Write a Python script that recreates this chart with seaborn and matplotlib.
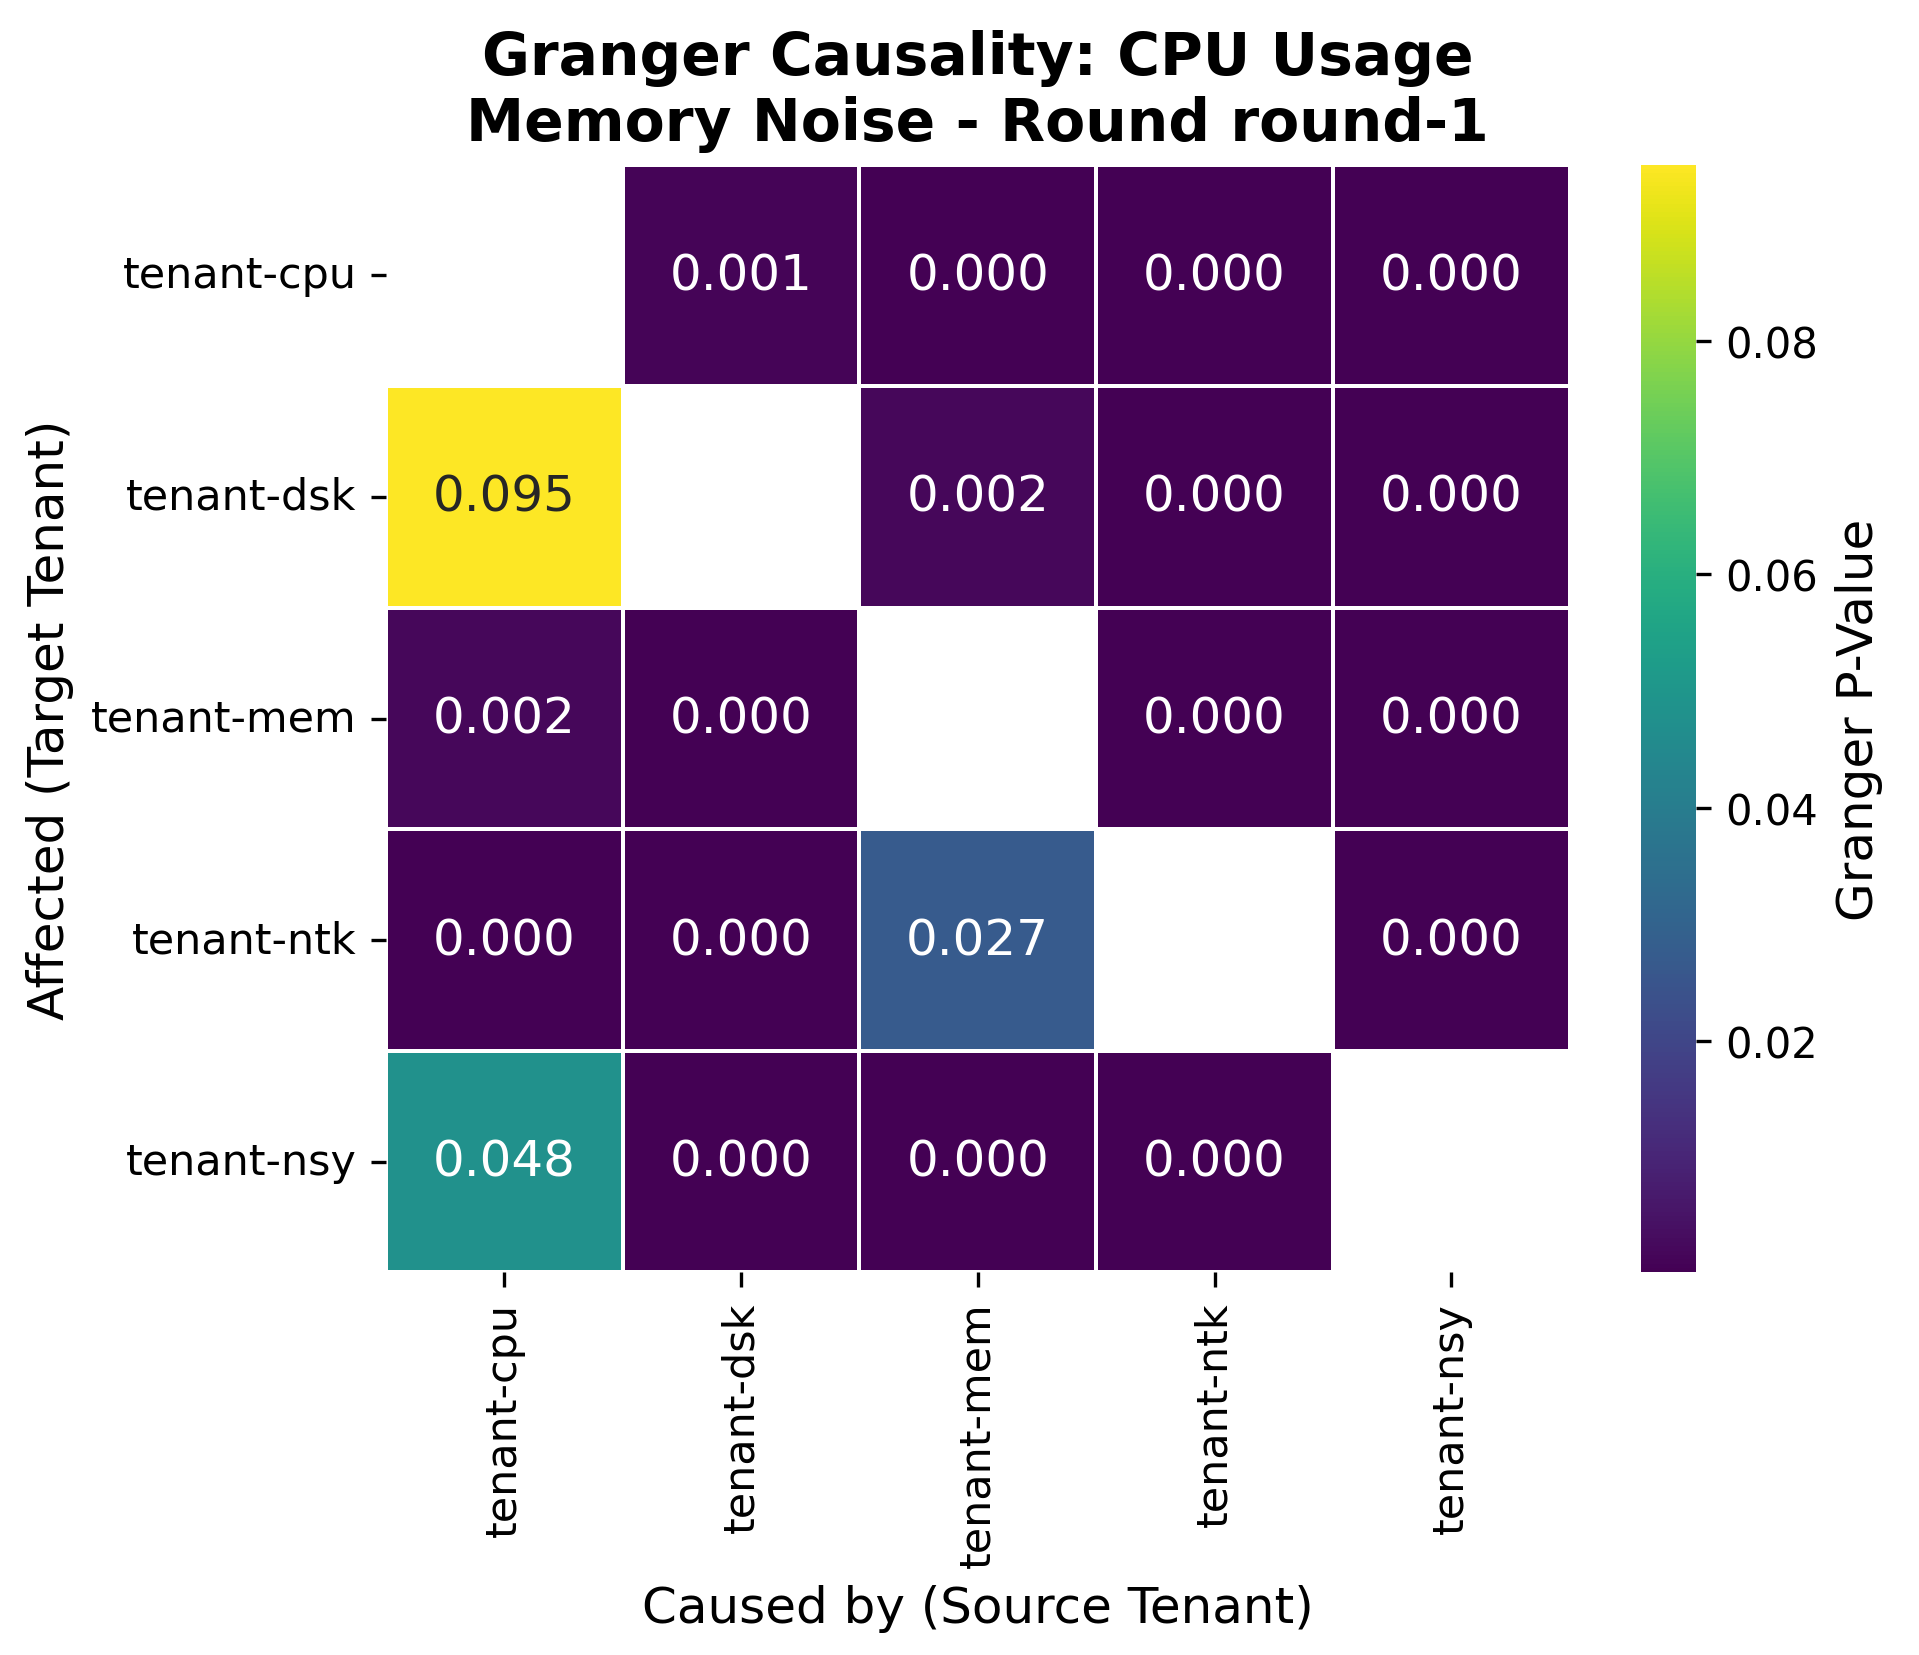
import numpy as np
import pandas as pd
import matplotlib
matplotlib.use("Agg")
import matplotlib.pyplot as plt
import seaborn as sns

# tenants (rows = target / affected, columns = source / cause)
tenants = ["tenant-cpu", "tenant-dsk", "tenant-mem", "tenant-ntk", "tenant-nsy"]

# p-values, one list per target row (diagonal = nan)
row_cpu = [np.nan, 0.0010, 0.0003, 0.0002, 0.0002]
row_dsk = [0.0951, np.nan, 0.0020, 0.0002, 0.0002]
row_mem = [0.0018, 0.0003, np.nan, 0.0002, 0.0002]
row_ntk = [0.0002, 0.0002, 0.0270, np.nan, 0.0002]
row_nsy = [0.0480, 0.0002, 0.0002, 0.0002, np.nan]

matriz = pd.DataFrame([row_cpu, row_dsk, row_mem, row_ntk, row_nsy],
                      index=tenants, columns=tenants)

fig, ax = plt.subplots(figsize=(1919/300, 1656/300), dpi=300)

sns.heatmap(matriz, annot=True, fmt=".3f", cmap="viridis",
            linewidths=0.5, linecolor="white",
            annot_kws={"size": 12},
            cbar_kws={"label": "Granger P-Value"}, ax=ax)

ax.set_title("Granger Causality: CPU Usage\nMemory Noise - Round round-1",
             fontsize=14, fontweight="bold")
ax.set_xlabel("Caused by (Source Tenant)", fontsize=12)
ax.set_ylabel("Affected (Target Tenant)", fontsize=12)
ax.tick_params(axis="x", labelsize=10.3, rotation=90)
ax.tick_params(axis="y", labelsize=10.3, rotation=0)

cbar = ax.collections[0].colorbar
cbar.ax.tick_params(labelsize=10)
cbar.set_label("Granger P-Value", fontsize=12)

# posiciones medidas en la imagen de referencia
ax.set_position([0.201, 0.231, 0.617, 0.669])
cbar.ax.set_position([0.855, 0.231, 0.032, 0.669])

plt.savefig("out.png", dpi=300)
